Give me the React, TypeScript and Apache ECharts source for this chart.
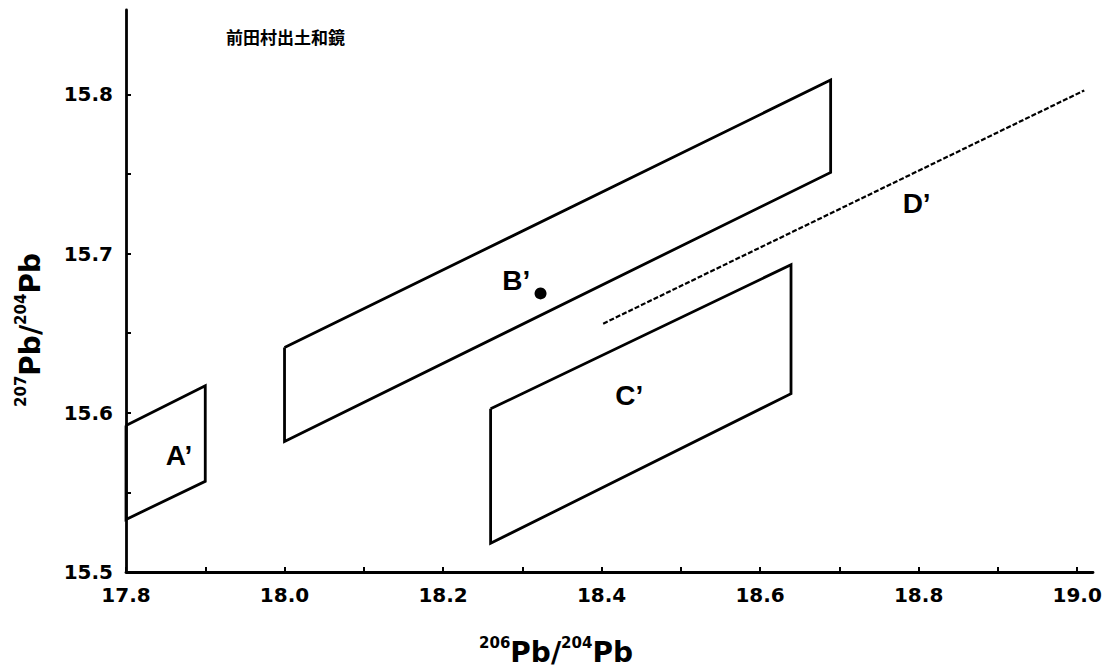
import React, { useEffect, useRef } from "react";
import * as echarts from "echarts";

// Axis ticks and labels
const xTickValues = [17.8, 17.9, 18.0, 18.1, 18.2, 18.3, 18.4, 18.5, 18.6, 18.7, 18.8, 18.9, 19.0];
const xLabelValues = [17.8, 18.0, 18.2, 18.4, 18.6, 18.8, 19.0];
const yTickValues = [15.5, 15.55, 15.6, 15.65, 15.7, 15.75, 15.8];
const yLabelValues = [15.5, 15.6, 15.7, 15.8];
const xRange = [17.8, 19.02];
const yRange = [15.5, 15.853];

// Region outlines (206Pb/204Pb, 207Pb/204Pb)
const regionA = [[17.8, 15.592], [17.9, 15.617], [17.9, 15.557], [17.8, 15.533]];
const regionB = [[18.0, 15.641], [18.689, 15.809], [18.689, 15.751], [18.0, 15.582]];
const regionC = [[18.26, 15.6025], [18.639, 15.693], [18.639, 15.612], [18.26, 15.518]];
const lineD = [[18.402, 15.656], [19.009, 15.8025]];
const mirrorPoint = [[18.323, 15.675]];

// Region labels
const labelNames = ["A\u2019", "B\u2019", "C\u2019", "D\u2019"];
const labelX = [17.867, 18.2925, 18.4348, 18.7975];
const labelY = [15.573, 15.683, 15.6107, 15.7314];

const chartTitle = "前田村出土和鏡";

const closed = (pts: number[][]) => [...pts, pts[0]];
const near = (v: number, arr: number[]) => arr.some((a) => Math.abs(a - v) < 1e-6);

const tickFont = {
  fontFamily: "DejaVu Sans",
  fontWeight: "bold" as const,
  fontSize: 20,
  color: "#000",
};

export default function App() {
  const ref = useRef<HTMLDivElement>(null);
  useEffect(() => {
    if (!ref.current) return;
    const chart = echarts.init(ref.current, undefined, { renderer: "svg" });
    const polyLine = (name: string, pts: number[][]) => ({
      name,
      type: "line",
      data: closed(pts),
      symbol: "none",
      showSymbol: false,
      lineStyle: { color: "#000", width: 2.8, join: "miter" },
      silent: true,
      z: 3,
    });
    const rich = {
      s: { fontFamily: "DejaVu Sans", fontWeight: "bold", fontSize: 15, verticalAlign: "top", color: "#000" },
      p: { fontFamily: "DejaVu Sans", fontWeight: "bold", fontSize: 28, lineHeight: 34, color: "#000" },
    };
    chart.setOption({
      animation: false,
      backgroundColor: "#fff",
      grid: { left: 126, right: 11, top: 10, bottom: 99, containLabel: false, outerBoundsMode: "none" },
      xAxis: {
        type: "value",
        min: xRange[0],
        max: xRange[1],
        splitLine: { show: false },
        axisLine: { show: true, onZero: false, lineStyle: { color: "#000", width: 2.8 } },
        axisTick: {
          show: true,
          inside: true,
          length: 5,
          customValues: xTickValues,
          lineStyle: { color: "#000", width: 2 },
        },
        axisLabel: {
          ...tickFont,
          margin: 13,
          customValues: xLabelValues,
          formatter: (v: number) => (near(v, xLabelValues) ? v.toFixed(1) : ""),
        },
      },
      yAxis: {
        type: "value",
        min: yRange[0],
        max: yRange[1],
        splitLine: { show: false },
        axisLine: { show: true, onZero: false, lineStyle: { color: "#000", width: 2.8 } },
        axisTick: {
          show: true,
          inside: true,
          length: 5,
          customValues: yTickValues,
          lineStyle: { color: "#000", width: 2 },
        },
        axisLabel: {
          ...tickFont,
          margin: 13,
          customValues: yLabelValues,
          formatter: (v: number) => (near(v, yLabelValues) ? v.toFixed(1) : ""),
        },
      },
      graphic: [
        {
          type: "text",
          left: 226,
          top: 28,
          style: {
            text: chartTitle,
            fontFamily: "Noto Sans CJK JP",
            fontSize: 17,
            fontWeight: "bold",
            fill: "#000",
          },
        },
        {
          type: "text",
          x: 556,
          y: 652,
          style: {
            text: "{s|206}{p|Pb/}{s|204}{p|Pb}",
            rich,
            align: "center",
            verticalAlign: "middle",
          },
        },
        {
          type: "text",
          x: 30,
          y: 330,
          rotation: Math.PI / 2,
          style: {
            text: "{s|207}{p|Pb/}{s|204}{p|Pb}",
            rich,
            align: "center",
            verticalAlign: "middle",
          },
        },
      ],
      series: [
        polyLine("A'", regionA),
        polyLine("B'", regionB),
        polyLine("C'", regionC),
        {
          name: "D'",
          type: "line",
          data: lineD,
          symbol: "none",
          showSymbol: false,
          lineStyle: { color: "#000", width: 2.2, type: [5, 2] },
          silent: true,
        },
        {
          name: "mirror",
          type: "scatter",
          data: mirrorPoint,
          symbol: "circle",
          symbolSize: 12,
          itemStyle: { color: "#000", opacity: 1 },
          silent: true,
          z: 4,
        },
        {
          name: "labels",
          type: "scatter",
          data: labelNames.map((n, i) => ({ name: n, value: [labelX[i], labelY[i]] })),
          symbol: "circle",
          symbolSize: 1,
          itemStyle: { color: "transparent" },
          label: {
            show: true,
            position: "inside",
            formatter: "{b}",
            fontFamily: "Liberation Sans",
            fontWeight: "bold",
            fontSize: 28,
            color: "#000",
            opacity: 1,
          },
          silent: true,
          z: 5,
        },
      ],
    });
    return () => chart.dispose();
  }, []);
  return (
    <div
      ref={ref}
      style={{ position: "fixed", left: 0, top: 0, width: 1104, height: 671, background: "#fff" }}
    />
  );
}
